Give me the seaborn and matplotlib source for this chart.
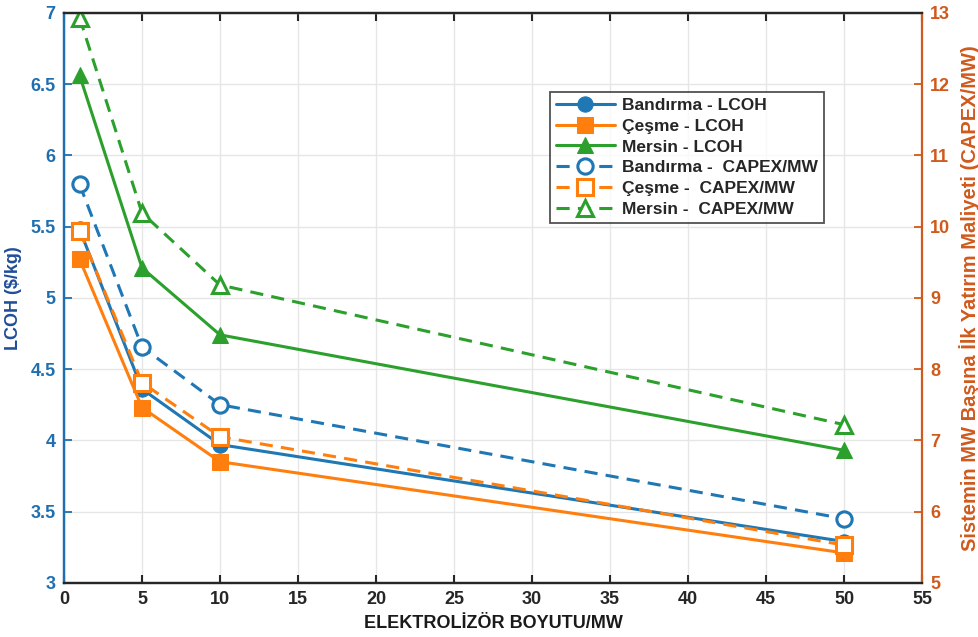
import matplotlib
matplotlib.use("Agg")
import matplotlib.pyplot as plt
import seaborn as sns
import pandas as pd

sizes = [1, 5, 10, 50]
bandirma_lcoh = [5.48, 4.36, 3.97, 3.29]
cesme_lcoh = [5.27, 4.23, 3.85, 3.21]
mersin_lcoh = [6.56, 5.21, 4.74, 3.93]
bandirma_capex = [10.59, 8.31, 7.50, 5.90]
cesme_capex = [9.94, 7.81, 7.05, 5.53]
mersin_capex = [12.93, 10.19, 9.18, 7.22]

lcoh_labels = ["Bandırma - LCOH", "Çeşme - LCOH", "Mersin - LCOH"]
capex_labels = ["Bandırma -  CAPEX/MW", "Çeşme -  CAPEX/MW", "Mersin -  CAPEX/MW"]
x_ticks = [0, 5, 10, 15, 20, 25, 30, 35, 40, 45, 50, 55]
left_ticks = [3, 3.5, 4, 4.5, 5, 5.5, 6, 6.5, 7]
right_ticks = [5, 6, 7, 8, 9, 10, 11, 12, 13]

sns.set_theme(style="white")
plt.rcParams['font.family'] = ['Liberation Sans', 'DejaVu Sans']
plt.rcParams['font.weight'] = 'bold'

colors = ["#1f77b4", "#ff7f0e", "#2ca02c"]
markers = ["o", "s", "^"]

fig = plt.figure(figsize=(9.79, 6.37), dpi=100)
ax = fig.add_axes([0.0654, 0.085, 0.8764, 0.895])
ax2 = ax.twinx()

lw = 2.2
ms = 11
for vals, lab, c, m in zip([bandirma_lcoh, cesme_lcoh, mersin_lcoh], lcoh_labels, colors, markers):
    df = pd.DataFrame({"x": sizes, "y": vals})
    sns.lineplot(data=df, x="x", y="y", ax=ax, color=c, marker=m, markersize=ms,
                 linewidth=lw, markeredgecolor=c, markerfacecolor=c, label=lab, legend=False)

for vals, lab, c, m in zip([bandirma_capex, cesme_capex, mersin_capex], capex_labels, colors, markers):
    df = pd.DataFrame({"x": sizes, "y": vals})
    sns.lineplot(data=df, x="x", y="y", ax=ax2, color=c, marker=m, markersize=ms,
                 linewidth=lw, linestyle=(0, (4.3, 2.7)), markeredgecolor=c,
                 markerfacecolor="white", markeredgewidth=2.2, label=lab, legend=False)

ax.set_xlim(0, 55)
ax.set_ylim(3, 7)
ax2.set_ylim(5, 13)
ax.set_xticks(x_ticks)
ax.set_yticks(left_ticks)
ax.set_yticklabels([f"{t:g}" for t in left_ticks])
ax2.set_yticks(right_ticks)

left_col = "#1f6fb0"
right_col = "#d05a1c"

ax.grid(True, color="#e6e6e6", linewidth=1.0)
ax.set_axisbelow(True)

ax.tick_params(axis="x", direction="in", length=6, width=1.5, colors="#262626",
               labelsize=13, top=True, bottom=True, pad=6)
ax.tick_params(axis="y", direction="in", length=6, width=1.3, colors=left_col,
               labelsize=13, pad=6)
ax2.tick_params(axis="y", direction="in", length=6, width=1.3, colors=right_col,
                labelsize=13, pad=6)
for lab in ax.get_xticklabels() + ax.get_yticklabels() + ax2.get_yticklabels():
    lab.set_fontweight("bold")

for sp in ["top", "bottom"]:
    ax.spines[sp].set_color("#262626")
    ax.spines[sp].set_linewidth(1.6)
    ax2.spines[sp].set_color("#262626")
    ax2.spines[sp].set_linewidth(1.6)
ax.spines["left"].set_color(left_col)
ax2.spines["left"].set_color(left_col)
ax.spines["left"].set_linewidth(1.6)
ax2.spines["left"].set_linewidth(1.6)
ax2.spines["right"].set_color(right_col)
ax.spines["right"].set_color(right_col)
ax2.spines["right"].set_linewidth(1.6)

ax.set_xlabel("ELEKTROLİZÖR BOYUTU/MW", fontsize=13, fontweight="bold", color="#1a1a1a", labelpad=5)
ax.set_ylabel("LCOH ($/kg)", fontsize=13, fontweight="bold", color="#1f4e9a", labelpad=6)
ax2.set_ylabel("Sistemin MW Başına İlk Yatırım Maliyeti (CAPEX/MW)", fontsize=14.5,
               fontweight="bold", color=right_col, labelpad=6)

h1, l1 = ax.get_legend_handles_labels()
h2, l2 = ax2.get_legend_handles_labels()
leg = ax2.legend(h1 + h2, l1 + l2, loc="upper left", bbox_to_anchor=(0.556, 0.877),
                 frameon=True, fancybox=False, edgecolor="#262626",
                 prop={"weight": "bold", "size": 12.5}, handlelength=3.4,
                 borderpad=0.35, labelspacing=0.33, handletextpad=0.4)
leg.get_frame().set_linewidth(1.3)

fig.savefig("out.png", dpi=100)
